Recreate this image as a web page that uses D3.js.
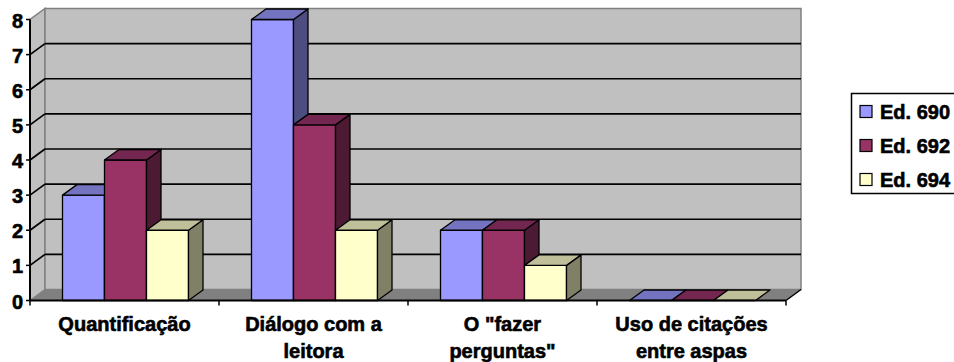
<!DOCTYPE html>
<html><head><meta charset="utf-8">
<script src="https://cdn.jsdelivr.net/npm/d3@7"></script>
<style>
html,body{margin:0;padding:0;background:#fff;}
svg{display:block;}
svg text{font-family:"Liberation Sans",Arial,Helvetica,sans-serif;font-weight:700;font-size:20px;fill:#000;stroke:#000;stroke-width:0.6px;}
</style></head>
<body>
<svg id="chart" width="954" height="362"></svg>
<script>
const categories = ["Quantificação", "Diálogo com a leitora", "O \"fazer perguntas\"", "Uso de citações entre aspas"];
const seriesNames = ["Ed. 690", "Ed. 692", "Ed. 694"];
const ed690 = [3, 8, 2, 0];
const ed692 = [4, 5, 2, 0];
const ed694 = [2, 2, 1, 0];
const yTicks = [0, 1, 2, 3, 4, 5, 6, 7, 8];

const seriesValues = [ed690, ed692, ed694];
const frontColors = ["#9999FF", "#993366", "#FFFFCC"];
const topColors = ["#7373BF", "#732650", "#BFBF99"];
const sideColors = ["#4D4D80", "#4D1A33", "#808066"];

const svg = d3.select("#chart");
const x0 = 30, x1 = 786;
const DX = 15, DY = -11;      // wall depth
const BDX = 14.5, BDY = -10.5; // bar depth

const x = d3.scaleBand().domain(categories).range([x0, x1]).paddingInner(0).paddingOuter(0);
const xs = d3.scaleBand().domain(seriesNames).range([1, x.bandwidth() + 1]).paddingInner(0).paddingOuter(0.75);
const y = d3.scaleLinear().domain([0, 8]).range([300.5, 19.5]);

const yB = y(0), yT = y(8);
const poly = pts => pts.map(p => p.join(",")).join(" ");

// left wall
svg.append("polygon")
  .attr("points", poly([[x0, yB], [x0, yT], [x0 + DX, yT + DY], [x0 + DX, yB + DY]]))
  .attr("fill", "#C0C0C0").attr("stroke", "#808080").attr("stroke-width", 1.5);
// back wall
svg.append("rect")
  .attr("x", x0 + DX).attr("y", yT + DY).attr("width", x1 - x0).attr("height", yB - yT)
  .attr("fill", "#C0C0C0").attr("stroke", "#808080").attr("stroke-width", 1.5);
// floor
svg.append("polygon")
  .attr("points", poly([[x0, yB], [x1, yB], [x1 + DX, yB + DY], [x0 + DX, yB + DY]]))
  .attr("fill", "#808080");

// gridlines
const grid = svg.append("g");
yTicks.filter(v => v > 0 && v < 8).forEach(v => {
  grid.append("line").attr("x1", x0 + DX).attr("x2", x1 + DX)
    .attr("y1", y(v) + DY).attr("y2", y(v) + DY)
    .attr("stroke", "#000").attr("stroke-width", 1.7);
  grid.append("line").attr("x1", x0).attr("x2", x0 + DX)
    .attr("y1", y(v)).attr("y2", y(v) + DY)
    .attr("stroke", "#000").attr("stroke-width", 1.7);
});

// floor right edge
svg.append("line").attr("x1", x1).attr("y1", yB).attr("x2", x1 + DX).attr("y2", yB + DY)
  .attr("stroke", "#000").attr("stroke-width", 1.5);

// bars
const bars = svg.append("g").attr("stroke", "#000").attr("stroke-width", 1.3).attr("stroke-linejoin", "round");
categories.forEach((c, ci) => {
  seriesNames.forEach((s, si) => {
    const v = seriesValues[si][ci];
    const bx = x(c) + xs(s), bw = xs.bandwidth();
    const top = y(v), bot = y(0);
    if (v > 0) {
      bars.append("rect").attr("x", bx).attr("y", top).attr("width", bw).attr("height", bot - top)
        .attr("fill", frontColors[si]);
      bars.append("polygon")
        .attr("points", poly([[bx + bw, bot], [bx + bw, top], [bx + bw + BDX, top + BDY], [bx + bw + BDX, bot + BDY]]))
        .attr("fill", sideColors[si]);
    }
    bars.append("polygon")
      .attr("points", poly([[bx, top], [bx + bw, top], [bx + bw + BDX, top + BDY], [bx + BDX, top + BDY]]))
      .attr("fill", topColors[si]);
  });
});

// y axis
const ya = svg.append("g");
ya.append("line").attr("x1", x0).attr("x2", x0).attr("y1", yT).attr("y2", yB)
  .attr("stroke", "#000").attr("stroke-width", 2);
yTicks.forEach(v => {
  ya.append("line").attr("x1", x0 - 4).attr("x2", x0).attr("y1", y(v)).attr("y2", y(v))
    .attr("stroke", "#000").attr("stroke-width", 1.5);
  ya.append("text").attr("x", 23).attr("y", y(v) + 8)
    .attr("text-anchor", "end").text(v);
});

// x axis
const xa = svg.append("g");
xa.append("line").attr("x1", x0).attr("x2", x1).attr("y1", yB).attr("y2", yB)
  .attr("stroke", "#000").attr("stroke-width", 2);
categories.forEach(c => {
  xa.append("line").attr("x1", x(c)).attr("x2", x(c)).attr("y1", yB).attr("y2", yB + 5)
    .attr("stroke", "#000").attr("stroke-width", 1.5);
});
xa.append("line").attr("x1", x1).attr("x2", x1).attr("y1", yB).attr("y2", yB + 5)
  .attr("stroke", "#000").attr("stroke-width", 1.5);

categories.forEach(c => {
  const cx = x(c) + x.bandwidth() / 2;
  const t = xa.append("text").attr("text-anchor", "middle");
  const words = c.split(" ");
  let lines = [], cur = [];
  const probe = t.append("tspan");
  words.forEach(w => {
    const test = cur.concat([w]).join(" ");
    probe.text(test);
    if (probe.node().getComputedTextLength() > 182 && cur.length) {
      lines.push(cur.join(" "));
      cur = [w];
    } else cur.push(w);
  });
  lines.push(cur.join(" "));
  probe.remove();
  lines.forEach((l, i) => {
    t.append("tspan").attr("x", cx).attr("y", 331 + i * 26.5).text(l);
  });
});

// legend
const lg = svg.append("g");
lg.append("rect").attr("x", 851.5).attr("y", 93.5).attr("width", 110).attr("height", 100)
  .attr("fill", "#fff").attr("stroke", "#000").attr("stroke-width", 1.5);
seriesNames.forEach((s, i) => {
  const cy = 111.5 + i * 34;
  lg.append("rect").attr("x", 860).attr("y", cy - 6).attr("width", 12).attr("height", 12)
    .attr("fill", frontColors[i]).attr("stroke", "#000").attr("stroke-width", 1.2);
  lg.append("text").attr("x", 880).attr("y", cy + 7).text(s);
});
</script>
</body></html>
